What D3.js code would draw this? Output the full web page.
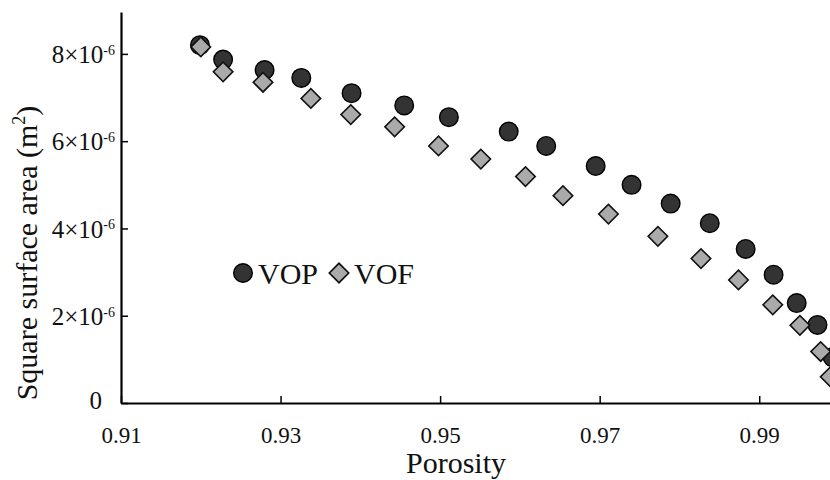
<!DOCTYPE html>
<html>
<head>
<meta charset="utf-8">
<script src="https://cdn.jsdelivr.net/npm/d3@7"></script>
<style>
  body { margin: 0; background: #fff; }
  svg { display: block; font-family: "Liberation Serif", "Times New Roman", serif; }
</style>
</head>
<body>
<svg id="chart" width="830" height="480"></svg>
<script>
// porosity values and square surface area (in units of 1e-6 m^2)
const vopPorosity = [0.9199, 0.9228, 0.9280, 0.9326, 0.9389, 0.9455, 0.9511, 0.9586, 0.9633,
  0.9695, 0.9740, 0.9789, 0.9838, 0.9883, 0.9918, 0.9947, 0.9973, 0.9992];
const vopArea = [8.20, 7.87, 7.63, 7.45, 7.10, 6.82, 6.55, 6.22, 5.89,
  5.43, 5.00, 4.57, 4.12, 3.53, 2.94, 2.29, 1.79, 1.05];

const vofPorosity = [0.9200, 0.9228, 0.9278, 0.9338, 0.9388, 0.9443, 0.9498, 0.9551, 0.9607,
  0.9654, 0.9711, 0.9773, 0.9827, 0.9874, 0.9917, 0.9951, 0.9977, 0.9989];
const vofArea = [8.16, 7.59, 7.35, 6.98, 6.61, 6.33, 5.89, 5.59, 5.19,
  4.75, 4.33, 3.82, 3.31, 2.82, 2.25, 1.78, 1.18, 0.60];

const xTicks = [0.91, 0.93, 0.95, 0.97, 0.99];
const yTicks = [0, 2, 4, 6, 8];

const svg = d3.select('#chart');

const x = d3.scaleLinear().domain([0.91, 1.0]).range([121, 839]);
const y = d3.scaleLinear().domain([0, 8.96]).range([403, 12]);

// x axis, ticks pointing inward
const xAxisG = svg.append('g')
  .attr('transform', 'translate(0,403)')
  .call(d3.axisBottom(x).tickValues(xTicks).tickFormat(d3.format('.2f'))
    .tickSizeInner(-7).tickSizeOuter(0).tickPadding(24));
xAxisG.select('.domain').attr('stroke', '#000').attr('stroke-width', 2.2);
xAxisG.selectAll('.tick line').attr('stroke', '#000').attr('stroke-width', 1.5);
xAxisG.selectAll('.tick text')
  .attr('font-family', '"Liberation Serif", serif')
  .attr('font-size', 23).attr('fill', '#111');

// y axis
const yAxisG = svg.append('g')
  .attr('transform', 'translate(121,0)')
  .call(d3.axisLeft(y).tickValues(yTicks).tickFormat('')
    .tickSizeInner(-7).tickSizeOuter(0));
yAxisG.select('.domain').attr('stroke', '#000').attr('stroke-width', 2.2);
yAxisG.selectAll('.tick line').attr('stroke', '#000').attr('stroke-width', 1.5);

yAxisG.selectAll('.tick').each(function(d) {
  const t = d3.select(this).append('text')
    .attr('x', -6).attr('dy', '0.35em')
    .attr('text-anchor', 'end')
    .attr('font-size', 25).attr('fill', '#111')
    .attr('font-family', '"Liberation Serif", serif');
  if (d === 0) {
    t.attr('x', -19).attr('dy', '0.2em').text('0');
  } else {
    t.append('tspan').text(d + '×10');
    t.append('tspan').attr('font-size', 14).attr('dy', '-0.6em').text('-6');
  }
});

// axis titles
svg.append('text')
  .attr('x', 456).attr('y', 473)
  .attr('text-anchor', 'middle')
  .attr('font-size', 30).attr('fill', '#111')
  .text('Porosity');

const yTitle = svg.append('text')
  .attr('transform', 'translate(37,253) rotate(-90)')
  .attr('text-anchor', 'middle')
  .attr('font-size', 30).attr('fill', '#111');
yTitle.append('tspan').text('Square surface area (m');
yTitle.append('tspan').attr('font-size', 18).attr('dy', -12).text('2');
yTitle.append('tspan').attr('dy', 12).text(')');

// markers
const diamond = d3.symbol().type(d3.symbolSquare).size(190);

const vop = vopPorosity.map((p, i) => ({p: p, a: vopArea[i]}));
const vof = vofPorosity.map((p, i) => ({p: p, a: vofArea[i]}));

svg.append('g').selectAll('circle')
  .data(vop)
  .join('circle')
  .attr('cx', d => x(d.p))
  .attr('cy', d => y(d.a))
  .attr('r', 9.3)
  .attr('fill', '#333')
  .attr('stroke', '#000')
  .attr('stroke-width', 1.4);

svg.append('g').selectAll('path')
  .data(vof)
  .join('path')
  .attr('d', diamond)
  .attr('transform', d => `translate(${x(d.p)},${y(d.a)}) rotate(45)`)
  .attr('fill', '#aaa')
  .attr('stroke', '#111')
  .attr('stroke-width', 1.6);

// legend
const legend = svg.append('g');
legend.append('circle')
  .attr('cx', 243).attr('cy', 273).attr('r', 9.3)
  .attr('fill', '#333').attr('stroke', '#000').attr('stroke-width', 1.4);
legend.append('text')
  .attr('x', 258).attr('y', 284)
  .attr('font-size', 30).attr('fill', '#111')
  .text('VOP');
legend.append('path')
  .attr('d', diamond)
  .attr('transform', 'translate(339,273) rotate(45)')
  .attr('fill', '#aaa').attr('stroke', '#111').attr('stroke-width', 1.6);
legend.append('text')
  .attr('x', 354).attr('y', 284)
  .attr('font-size', 30).attr('fill', '#111')
  .text('VOF');
</script>
</body>
</html>
